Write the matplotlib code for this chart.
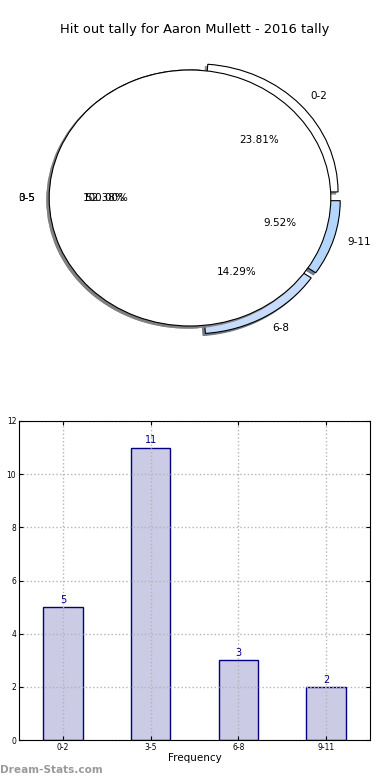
import matplotlib
matplotlib.use('Agg')
import matplotlib.pyplot as plt

# data
categories = ['0-2', '3-5', '6-8', '9-11']
counts = [5, 11, 3, 2]
pie_order = ['3-5', '6-8', '9-11', '0-2']
slice_colors = {'0-2': 'white', '3-5': 'white', '6-8': '#c6dcfa', '9-11': '#b5d6fc'}
slice_explode = {'0-2': 0.07, '3-5': 0.0, '6-8': 0.07, '9-11': 0.07}
overlay_label = ['0-5']
title = 'Hit out tally for Aaron Mullett - 2016 tally'

fig = plt.figure(figsize=(3.9, 7.8), dpi=100)

# pie on top
ax1 = fig.add_axes([14 / 390, 422 / 780, 352 / 390, 320 / 780])
lookup = dict(zip(categories, counts))
vals = [lookup[c] for c in pie_order]
wp = {'edgecolor': 'black', 'linewidth': 0.8}
tp = {'fontsize': 7.5}
# shadow offsets are data units (scaled by dpi/72)
ax1.pie(vals, labels=pie_order, colors=[slice_colors[c] for c in pie_order],
        explode=[slice_explode[c] for c in pie_order], autopct='%.2f%%',
        startangle=85.7, shadow={'ox': -0.012, 'oy': -0.012, 'shade': 0.5, 'alpha': 0.85},
        wedgeprops=wp, textprops=tp)
# second pie drawn over the first one, with its shadow above the first pie too
ax1.pie([sum(counts)], labels=overlay_label, colors=['white'], autopct='%.2f%%',
        shadow={'ox': -0.012, 'oy': -0.012, 'shade': 0.5, 'alpha': 0.85, 'zorder': 2.5},
        wedgeprops={'edgecolor': 'black', 'linewidth': 0.8, 'zorder': 2.8},
        textprops=tp)
ax1.set_aspect('auto')
ax1.set_xlim(-1.25, 1.25)
ax1.set_ylim(-1.25, 1.25)
fig.text(0.5, 1 - 30 / 780, title, ha='center', va='center', fontsize=9.4)

# bars below
ax2 = fig.add_axes([19 / 390, 40 / 780, 351 / 390, 319 / 780])
x = range(len(categories))
bars = ax2.bar(x, counts, width=0.45, color='#cbcbe5', edgecolor='#000080', linewidth=1, zorder=1.5)
for b, v in zip(bars, counts):
    ax2.text(b.get_x() + b.get_width() / 2, v + 0.08, str(v), ha='center', va='bottom',
             fontsize=7, color='#000080', zorder=3)
ax2.set_xlim(-0.5, 3.5)
ax2.set_ylim(0, 12)
ax2.set_xticks(list(x))
ax2.set_xticklabels(categories)
ax2.set_yticks(range(0, 13, 2))
ax2.tick_params(labelsize=5.5, direction='in', top=True, right=True, length=3, pad=2)
ax2.set_axisbelow(False)
ax2.grid(True, linestyle=':', color='#b4b4b4', linewidth=1)
for sp in ax2.spines.values():
    sp.set_zorder(5)
ax2.set_xlabel('Frequency', fontsize=7.5, labelpad=1)
ax2.set_ylabel('Total Hit Outs', fontsize=7, labelpad=2)
ax2.yaxis.set_label_coords(-0.052, 0.5)

fig.text(0.0, 1 - 770 / 780, 'Dream-Stats.com', ha='left', va='center',
         fontsize=7.6, color='#9a9a9a', fontweight='bold')

fig.savefig('out.png', dpi=100)
